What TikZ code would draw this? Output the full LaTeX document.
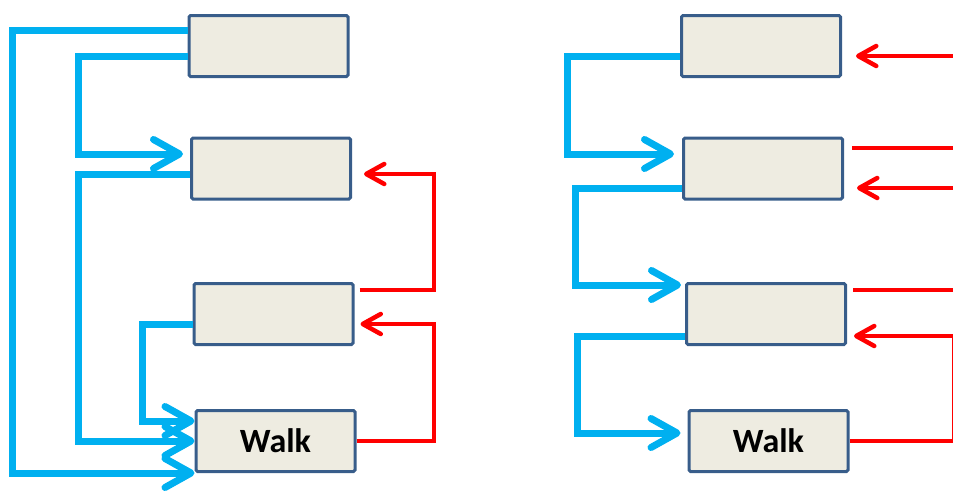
\documentclass[tikz,border=0pt]{standalone}
\usepackage{fontspec}
\newfontfamily\boxfont{Carlito}
\usetikzlibrary{arrows.meta}
\definecolor{flowblue}{HTML}{00B0F0}
\definecolor{flowred}{HTML}{FF0000}
\definecolor{boxfill}{HTML}{EEECE1}
\definecolor{boxedge}{HTML}{385D8A}
\tikzset{
  stage/.style={draw=boxedge, fill=boxfill, line width=3pt, rounded corners=1.5pt,
    minimum width=159pt, minimum height=61pt, inner sep=0pt,
    font=\boxfont\bfseries\fontsize{34}{34}\selectfont},
  bluelink/.style={draw=flowblue, line width=7pt,
    -{Straight Barb[length=26pt,width=29pt,round]}},
  redlink/.style={draw=flowred, line width=4.5pt,
    -{Straight Barb[length=18pt,width=20pt,round]}},
  redstub/.style={draw=flowred, line width=4.5pt},
}
\begin{document}
\begin{tikzpicture}[x=1pt, y=-1pt]
\useasboundingbox (0,0) rectangle (953,490);

% left column
\node[stage] (L1) at (268.5,46) {};
\node[stage] (L2) at (271,168.5) {};
\node[stage] (L3) at (273.5,314) {};
\node[stage] (L4) at (275.5,441) {Walk};

% right column
\node[stage] (R1) at (761,46) {};
\node[stage] (R2) at (763,168.5) {};
\node[stage] (R3) at (766,314) {};
\node[stage] (R4) at (768.5,441) {Walk};

% free ends at the right margin
\coordinate (e1) at (960,56);
\coordinate (e2) at (960,148);
\coordinate (e3) at (960,188);
\coordinate (e4) at (960,290);
\coordinate (e5) at (954,336);

% left: forward (blue) links
\draw[bluelink] (L1.west |- 0,30) -- (12,30) -- (12,473) -- (L4.west |- 0,473);
\draw[bluelink, shorten >=7pt] (L1.west |- 0,56) -- (78,56) -- (78,154) -- (L2.west |- 0,154);
\draw[bluelink] (L2.west |- 0,174) -- (78,174) -- (78,441) -- (L4.west |- 0,441);
\draw[bluelink] (L3.west |- 0,324) -- (142,324) -- (142,421) -- (L4.west |- 0,421);

% left: feedback (red) links
\draw[redlink, shorten <=5pt, shorten >=12pt] (L3.east |- 0,290) -- (434,290) -- (434,174) -- (L2.east |- 0,174);
\draw[redlink, shorten >=6pt] (L4.east |- 0,441) -- (434,441) -- (434,324) -- (L3.east |- 0,324);

% right: forward (blue) links
\draw[bluelink, shorten >=8pt] (R1.west |- 0,56) -- (567,56) -- (567,154) -- (R2.west |- 0,154);
\draw[bluelink, shorten >=4pt] (R2.west |- 0,188) -- (575,188) -- (575,285) -- (R3.west |- 0,285);
\draw[bluelink, shorten >=7pt] (R3.west |- 0,336) -- (577,336) -- (577,433) -- (R4.west |- 0,433);

% right: feedback (red) links
\draw[redlink, shorten >=14pt] (e1) -- (R1.east |- e1);
\draw[redstub, shorten <=8pt] (R2.east |- e2) -- (e2);
\draw[redlink, shorten >=13pt] (e3) -- (R2.east |- e3);
\draw[redstub, shorten <=6pt] (R3.east |- e4) -- (e4);
\draw[redlink, shorten >=7pt] (R4.east |- 0,441) -- (e5 |- 0,441) -- (e5) -- (R3.east |- e5);
\end{tikzpicture}
\end{document}
